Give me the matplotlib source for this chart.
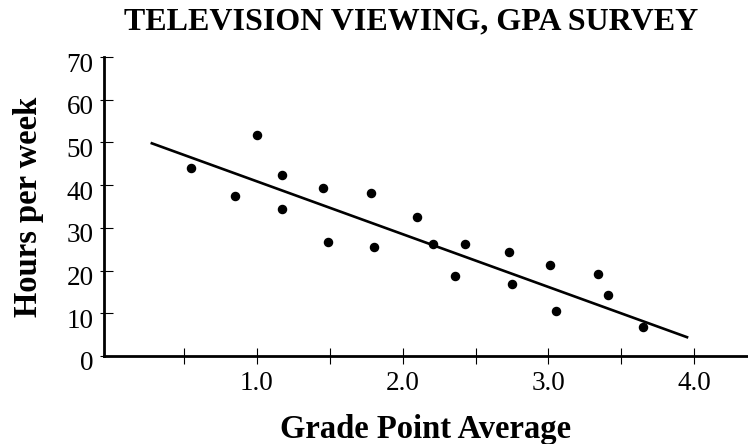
import matplotlib.pyplot as plt
import matplotlib.transforms as mtransforms

plt.rcParams["font.family"] = ["Liberation Serif", "DejaVu Serif"]

gpa = [0.55, 0.85, 1.0, 1.17, 1.17, 1.455, 1.49, 1.78, 1.80, 2.10, 2.21, 2.36,
       2.43, 2.73, 2.75, 3.01, 3.05, 3.34, 3.41, 3.65]
hours = [43.9, 37.4, 51.8, 42.4, 34.3, 39.3, 26.7, 38.1, 25.5, 32.5, 26.3, 18.7,
         26.2, 24.3, 16.8, 21.2, 10.5, 19.3, 14.3, 6.8]

fit_x = [0.27, 3.96]
fit_y = [49.9, 4.3]

x_ticks = [0.5, 1.0, 1.5, 2.0, 2.5, 3.0, 3.5, 4.0]
x_labels = ["", "1.0", "", "2.0", "", "3.0", "", "4.0"]
y_ticks = [0, 10, 20, 30, 40, 50, 60, 70]


def main():
    fig = plt.figure(figsize=(7.48, 4.44), dpi=100)
    ax = fig.add_axes([0.139, 0.1982, 0.861, 0.6734])

    ax.plot(fit_x, fit_y, color="black", lw=1.9, solid_capstyle="butt")
    ax.scatter(gpa, hours, s=34, color="black", zorder=3)

    ax.set_xlim(-0.05, 4.37)
    ax.set_ylim(0, 70)
    ax.set_xticks(x_ticks)
    ax.set_xticklabels(x_labels)
    ax.set_yticks(y_ticks)
    # short outward stubs on the y ticks, longer part points inward
    ax.set_yticks(y_ticks, minor=True)
    ax.yaxis.remove_overlapping_locs = False

    for side in ("top", "right"):
        ax.spines[side].set_visible(False)
    for side in ("left", "bottom"):
        ax.spines[side].set_linewidth(2.0)

    ax.tick_params(axis="x", direction="inout", length=12, width=0.8,
                   labelsize=19.5, pad=5, colors="black")
    ax.tick_params(axis="y", which="major", direction="in", length=6.5,
                   width=0.8, labelsize=19.5, pad=7.5, colors="black")
    ax.tick_params(axis="y", which="minor", direction="out", length=3,
                   width=0.8, labelleft=False)

    shift = mtransforms.ScaledTranslation(0, -5 / 100, fig.dpi_scale_trans)
    for lab in ax.get_yticklabels():
        lab.set_transform(lab.get_transform() + shift)

    ax.set_xlabel("Grade Point Average", fontsize=23.5, fontweight="bold",
                  labelpad=12.5)
    ax.set_ylabel("Hours per week", fontsize=23.5, fontweight="bold",
                  labelpad=16)
    fig.suptitle("TELEVISION VIEWING, GPA SURVEY", fontsize=23,
                 fontweight="bold", x=0.550, y=0.983)

    fig.savefig("out.png", dpi=100)
    plt.close(fig)


if __name__ == "__main__":
    main()
